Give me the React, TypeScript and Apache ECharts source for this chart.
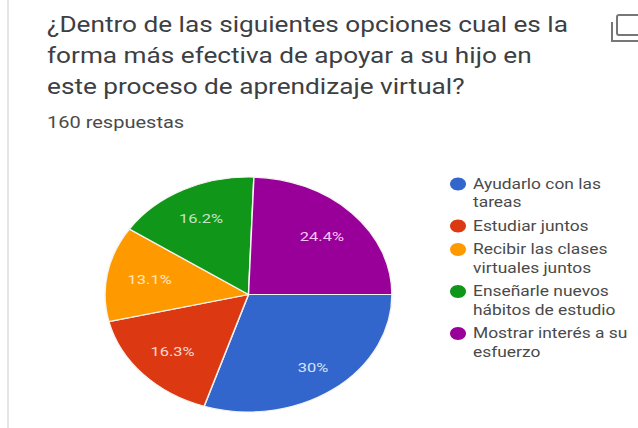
import React, { useEffect, useRef } from "react";
import * as echarts from "echarts";

const categories = [
  "Ayudarlo con las tareas",
  "Estudiar juntos",
  "Recibir las clases virtuales juntos",
  "Enseñarle nuevos hábitos de estudio",
  "Mostrar interés a su esfuerzo",
];
const legendLabels = [
  ["Ayudarlo con las", "tareas"],
  ["Estudiar juntos"],
  ["Recibir las clases", "virtuales juntos"],
  ["Enseñarle nuevos", "hábitos de estudio"],
  ["Mostrar interés a su", "esfuerzo"],
];
const values = [30, 16.3, 13.1, 16.2, 24.4];
const valueLabels = ["30%", "16.3%", "13.1%", "16.2%", "24.4%"];
const titleLines = [
  "¿Dentro de las siguientes opciones cual es la",
  "forma más efectiva de apoyar a su hijo en",
  "este proceso de aprendizaje virtual?",
];
const subtitle = "160 respuestas";

const colors = ["#3366cc", "#dc3912", "#ff9900", "#109618", "#990099"];
const labelColors = ["#d6e0f5", "#f8d7d0", "#ffe6bf", "#c3e5c5", "#f5c6f5"];
const labelReach = [0.765, 0.72, 0.7, 0.73, 0.71];

const total = values.reduce((a, b) => a + b, 0);
const FONT = "Roboto, 'Noto Sans', sans-serif";
const CX = 248.5;
const CY = 294.5;
const RX = 143.5;
const RY = 117.5;
const LEGEND_LINE = 18.5;
const LEGEND_GAP = 5;

function legendGraphics() {
  const out: any[] = [];
  let y = 184;
  legendLabels.forEach((lines, i) => {
    out.push({
      type: "ellipse",
      shape: { cx: 458, cy: y, rx: 8, ry: 6.5 },
      style: { fill: colors[i] },
    });
    lines.forEach((text, j) => {
      out.push({
        type: "text",
        x: 473,
        y: y + j * LEGEND_LINE,
        scaleX: 1.2,
        style: { text, fill: "#4a4a4a", font: `14.5px ${FONT}`, verticalAlign: "middle" },
      });
    });
    y += lines.length * LEGEND_LINE + LEGEND_GAP;
  });
  return out;
}

export default function App() {
  const ref = useRef<HTMLDivElement>(null);
  useEffect(() => {
    const chart = echarts.init(ref.current!, null, { renderer: "svg" });
    const series = categories.map((name, i) => {
      const before = values.slice(0, i).reduce((a, b) => a + b, 0);
      return {
        type: "custom",
        name,
        coordinateSystem: "none",
        silent: true,
        itemStyle: { color: colors[i] },
        data: [[before, values[i]]],
        renderItem: (_p: any, api: any) => {
          const start = (api.value(0) / total) * Math.PI * 2;
          const end = ((api.value(0) + api.value(1)) / total) * Math.PI * 2;
          const mid = (start + end) / 2;
          return {
            type: "group",
            children: [
              {
                type: "sector",
                x: CX,
                y: CY,
                scaleX: RX / RY,
                scaleY: 1,
                shape: { cx: 0, cy: 0, r0: 0, r: RY, startAngle: start, endAngle: end, clockwise: true },
                style: { fill: colors[i], stroke: "#f4f4f0", lineWidth: 1.2 },
              },
              {
                type: "text",
                x: CX + Math.cos(mid) * RX * labelReach[i],
                y: CY + Math.sin(mid) * RY * labelReach[i],
                scaleX: 1.22,
                style: {
                  text: valueLabels[i],
                  fill: labelColors[i],
                  font: `13.5px ${FONT}`,
                  align: "center",
                  verticalAlign: "middle",
                },
              },
            ],
          };
        },
      };
    });
    chart.setOption({
      animation: false,
      backgroundColor: "#ffffff",
      graphic: [
        { type: "rect", shape: { x: 7, y: 0, width: 2, height: 428 }, style: { fill: "#e6e6e6" } },
        ...titleLines.map((text, i) => ({
          type: "text",
          x: 47,
          y: 25 + i * 31,
          scaleX: 1.19,
          style: { text, fill: "#3c4043", font: `22px ${FONT}`, verticalAlign: "middle" },
        })),
        {
          type: "text",
          x: 47,
          y: 122,
          scaleX: 1.25,
          style: { text: subtitle, fill: "#4a4a4a", font: `16px ${FONT}`, verticalAlign: "middle" },
        },
        { type: "rect", shape: { x: 617, y: 15, width: 25, height: 20, r: 2 }, style: { fill: "none", stroke: "#777777", lineWidth: 2 } },
        { type: "polyline", shape: { points: [[612, 22], [612, 41], [640, 41]] }, style: { fill: "none", stroke: "#777777", lineWidth: 2 } },
        ...legendGraphics(),
      ],
      series,
    });
    return () => chart.dispose();
  }, []);
  return <div ref={ref} style={{ position: "fixed", left: 0, top: 0, width: 638, height: 428 }} />;
}
